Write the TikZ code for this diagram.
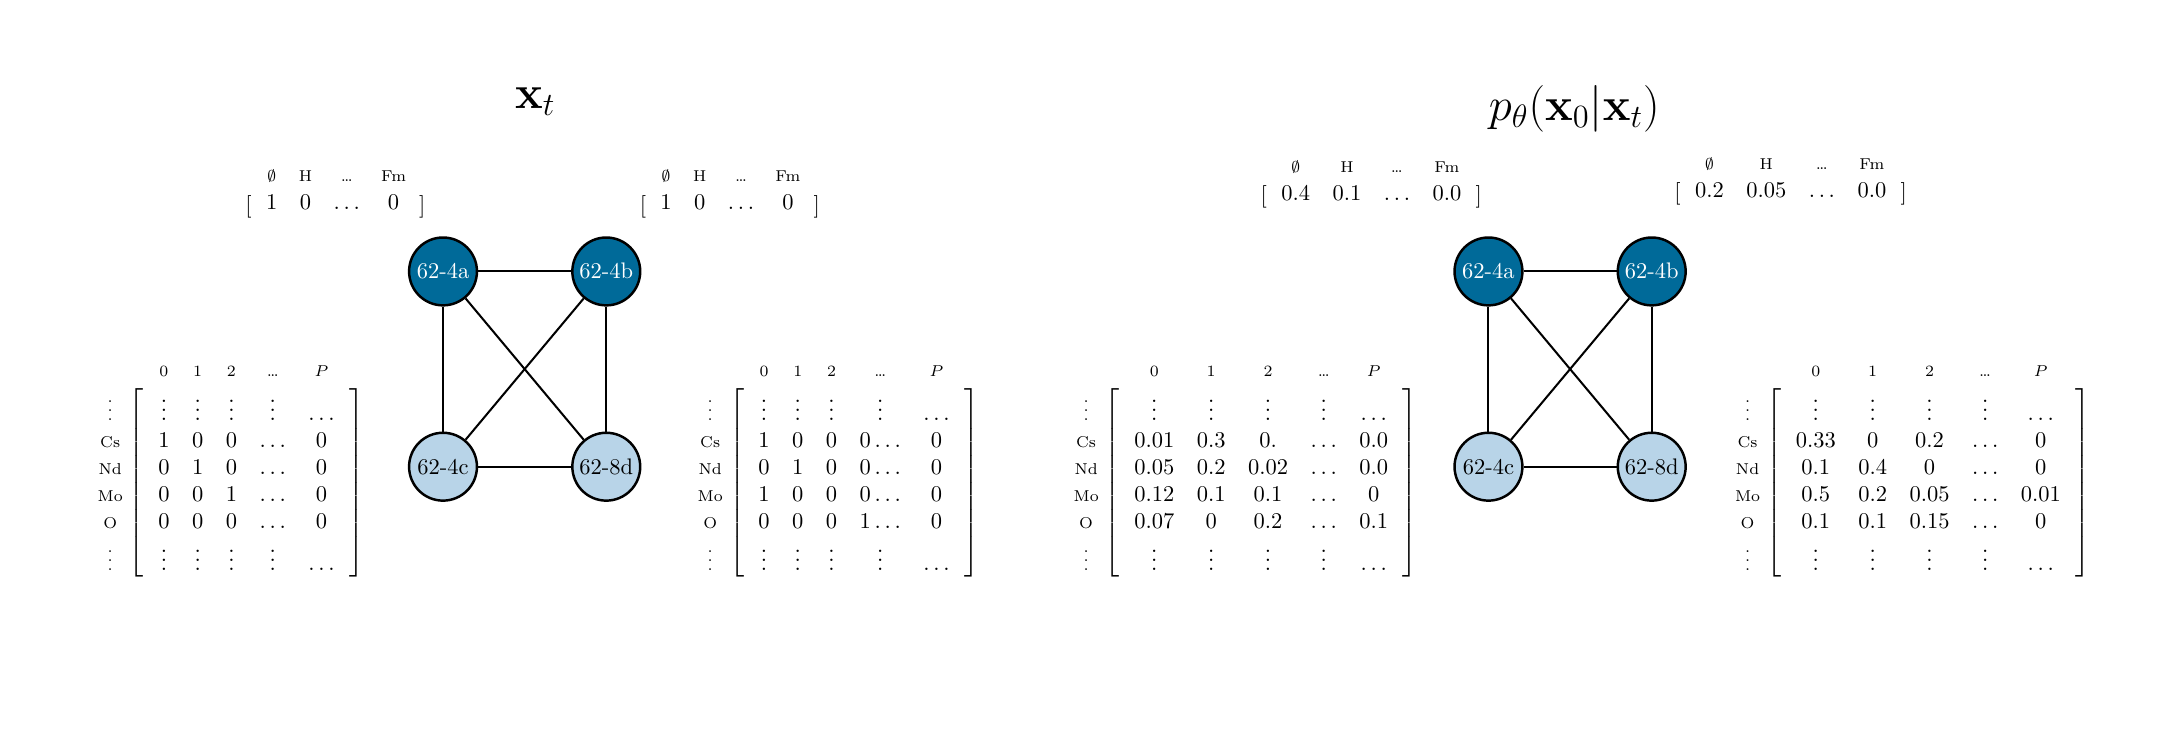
\documentclass[tikz,border=0pt]{standalone}
\usepackage{amsmath}
\usepackage{amssymb}
\usepackage{xcolor}
\usepackage{tikz}
\usetikzlibrary{matrix}
\definecolor{SiteDark}{HTML}{006A99}
\definecolor{SiteLight}{HTML}{B8D4E8}
\tikzset{%Global config
	>=latex,
	color = black ,
	%Styles
	Matrix/.style={
		matrix of math nodes,
		left delimiter={[},
		right delimiter={]},
		inner xsep=5pt,
		inner ysep=0pt,
		column sep=10pt,
		row sep=1.96pt,
		nodes={inner sep=0pt, anchor=base, text depth=3.6pt},
	},
	RowLab/.style={
		font=\scriptsize,
		anchor=base,
		inner sep=0pt,
	},
	ColHead/.style={
		font=\scriptsize,
		anchor=base,
		inner sep=0pt,
	},
	Site/.style={
		circle,
		draw,
		line width=1.1pt,
		minimum size=1.06cm,
		inner sep=0pt,
	},
	Hot/.style={Site, fill=SiteDark, text=white},
	Cold/.style={Site, fill=SiteLight},
	Bond/.style={line width=0.9pt},
}

\begin{document}
\begin{tikzpicture}
	\useasboundingbox (0,0) rectangle (33.88,11.40);
	% titles
	\node[anchor=base, font=\huge] (T1) at (8.36,9.71) {$\mathbf{x}_t$};
	\node[anchor=base, font=\huge] (T2) at (24.59,9.51) {$p_\theta(\mathbf{x}_0|\mathbf{x}_t)$};

	% the two graphs
	\foreach \g/\x in {1/6.92, 2/23.25}{
		\node[Hot]  (A\g) at (\x,7.16) {62-4a};
		\node[Hot]  (B\g) at (\x+2.55,7.16) {62-4b};
		\node[Cold] (C\g) at (\x,4.11) {62-4c};
		\node[Cold] (D\g) at (\x+2.55,4.11) {62-8d};
		\foreach \u/\v in {A/B, A/C, B/D, C/D, A/D, B/C}
			\draw[Bond] (\u\g) -- (\v\g);
	}

	% node vectors
	\matrix[Matrix, column 4/.style={nodes={minimum width=10pt}}] (V1) at (5.24,8.17) {
		1 & 0 & \ldots & 0 \\
	};
	\matrix[Matrix, column 4/.style={nodes={minimum width=10pt}}] (V2) at (11.40,8.17) {
		1 & 0 & \ldots & 0 \\
	};
	\matrix[Matrix] (V3) at (21.42,8.32) {
		0.4 & 0.1 & \ldots & 0.0 \\
	};
	\matrix[Matrix] (V4) at (27.97,8.37) {
		0.2 & 0.05 & \ldots & 0.0 \\
	};
	\foreach \v in {V1,V2,V3,V4}
		\foreach \h [count=\j] in {$\emptyset$, H, \ldots, Fm}
			\node[ColHead] (\v-h\j) at ([yshift=12.5pt]\v-1-\j.base) {\h};

	% edge matrices
	\matrix[Matrix] (M1) at (3.85,3.86) {
		\vdots & \vdots & \vdots & \vdots & \ldots \\
		1 & 0 & 0 & \ldots & 0 \\
		0 & 1 & 0 & \ldots & 0 \\
		0 & 0 & 1 & \ldots & 0 \\
		0 & 0 & 0 & \ldots & 0 \\[-1.96pt]
		\vdots & \vdots & \vdots & \vdots & \ldots \\
	};
	\matrix[Matrix] (M2) at (13.34,3.86) {
		\vdots & \vdots & \vdots & \vdots & \ldots \\
		1 & 0 & 0 & 0\ldots & 0 \\
		0 & 1 & 0 & 0\ldots & 0 \\
		1 & 0 & 0 & 0\ldots & 0 \\
		0 & 0 & 0 & 1\ldots & 0 \\[-1.96pt]
		\vdots & \vdots & \vdots & \vdots & \ldots \\
	};
	\matrix[Matrix] (M3) at (19.70,3.86) {
		\vdots & \vdots & \vdots & \vdots & \ldots \\
		0.01 & 0.3 & 0. & \ldots & 0.0 \\
		0.05 & 0.2 & 0.02 & \ldots & 0.0 \\
		0.12 & 0.1 & 0.1 & \ldots & 0 \\
		0.07 & 0 & 0.2 & \ldots & 0.1 \\[-1.96pt]
		\vdots & \vdots & \vdots & \vdots & \ldots \\
	};
	\matrix[Matrix] (M4) at (30.12,3.86) {
		\vdots & \vdots & \vdots & \vdots & \ldots \\
		0.33 & 0 & 0.2 & \ldots & 0 \\
		0.1 & 0.4 & 0 & \ldots & 0 \\
		0.5 & 0.2 & 0.05 & \ldots & 0.01 \\
		0.1 & 0.1 & 0.15 & \ldots & 0 \\[-1.96pt]
		\vdots & \vdots & \vdots & \vdots & \ldots \\
	};
	\foreach \m in {M1,M2,M3,M4}{
		\coordinate (L\m) at ([xshift=-0.57cm]\m.west);
		\foreach \lab [count=\i] in {$\vdots$, Cs, Nd, Mo, O, $\vdots$}
			\node[RowLab] (\m-r\i) at (L\m |- \m-\i-1.base) {\lab};
		\foreach \h [count=\j] in {0, 1, 2, \ldots, $P$}
			\node[ColHead] (\m-h\j) at ([yshift=19.5pt]\m-1-\j.base) {\h};
	}
\end{tikzpicture}
\end{document}
